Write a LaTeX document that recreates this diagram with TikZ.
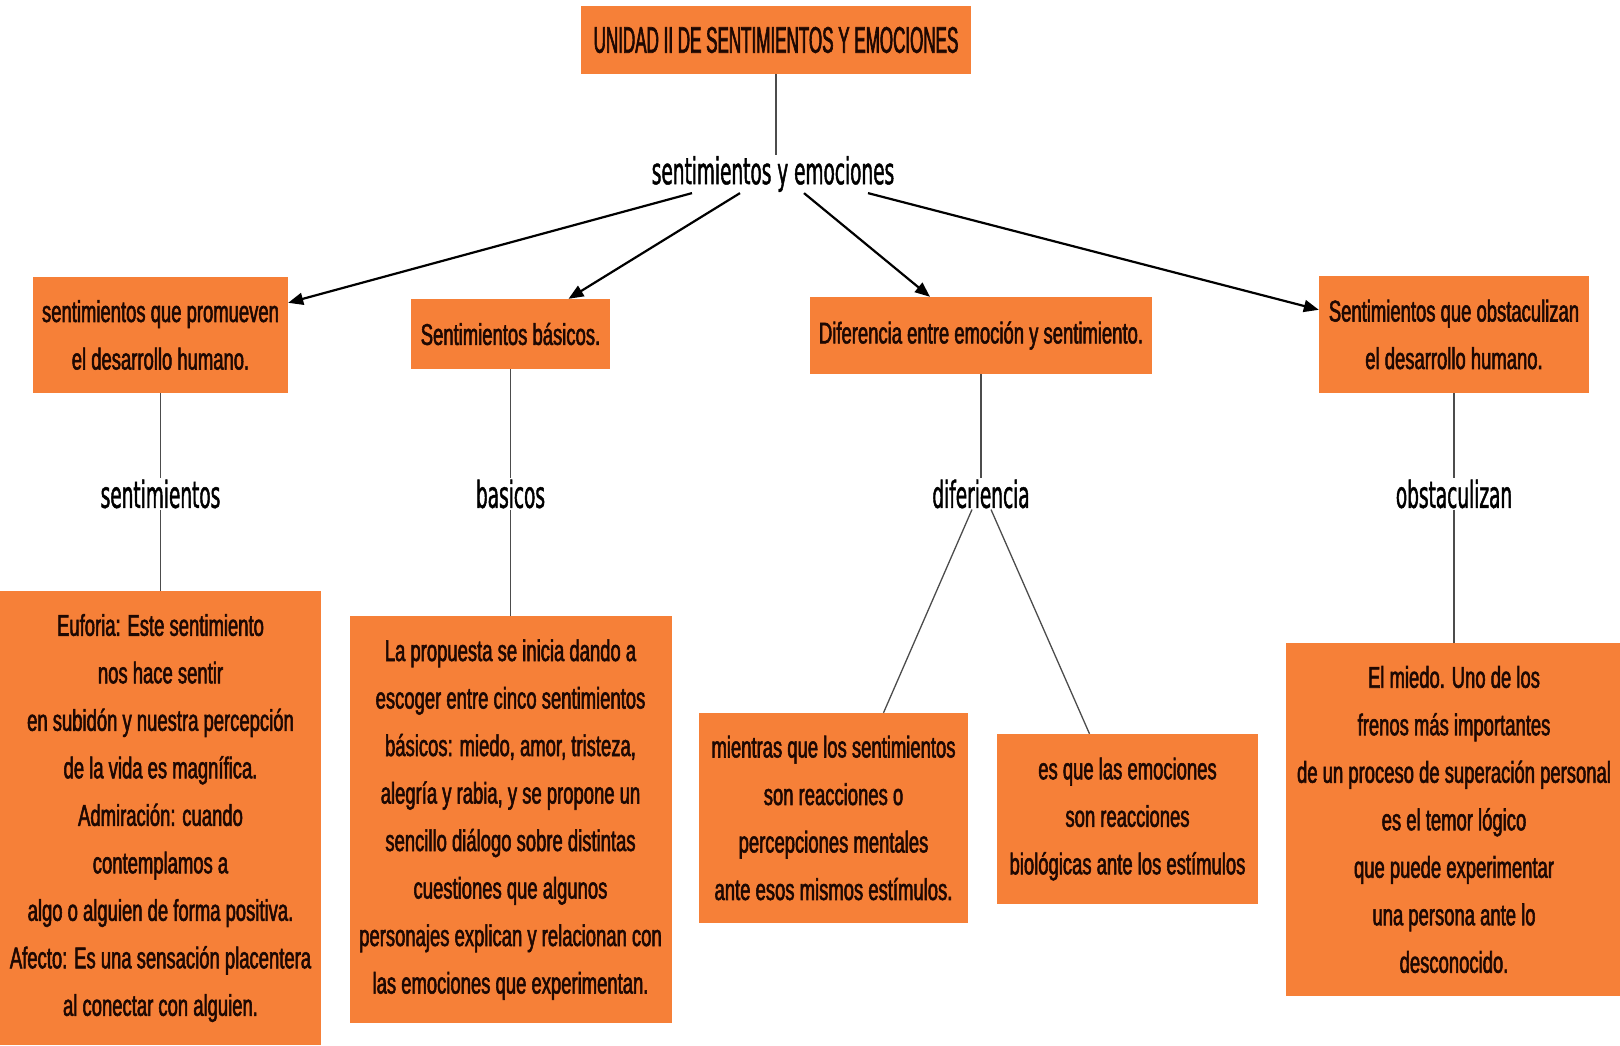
\documentclass[tikz,border=0pt]{standalone}
\usepackage{fontspec}
\setmainfont{Liberation Sans}
\newfontfamily\titlefont[FakeStretch=0.46,FakeBold=1.6]{Liberation Sans}
\newfontfamily\boxfont[FakeStretch=0.615,FakeBold=1.8]{Liberation Sans}
\newfontfamily\lblfont[FakeStretch=0.5,FakeBold=1.2]{DejaVu Sans}
\usetikzlibrary{arrows.meta}
\definecolor{naranja}{RGB}{246,128,56}
\definecolor{tinta}{RGB}{30,8,2}
\tikzset{
  caja/.style={fill=naranja, text=tinta, align=center, inner sep=0pt, font=\boxfont\fontsize{30}{47.5}\selectfont},
  etiq/.style={inner sep=1pt, font=\lblfont\fontsize{37}{40}\selectfont},
  flecha/.style={line width=2.2pt, -{Triangle[length=15pt,width=12pt]}},
  linea/.style={line width=1.3pt, black!70},
}

\begin{document}
\begin{tikzpicture}[x=1pt,y=-1pt]
\useasboundingbox (0,0) rectangle (1620,1045);

\node[caja, minimum width=390pt, minimum height=68pt, font=\titlefont\fontsize{37}{40}\selectfont] (titulo) at (776,40) {UNIDAD II DE SENTIMIENTOS Y EMOCIONES};
\node[etiq] (emo) at (773,174) {sentimientos y emociones};

\node[caja, minimum width=255pt, minimum height=116pt] (cajaA) at (160.5,335) {sentimientos que promueven\\el desarrollo humano.};
\node[caja, minimum width=199pt, minimum height=70pt] (cajaB) at (510.5,334) {Sentimientos básicos.};
\node[caja, minimum width=342pt, minimum height=77pt] (cajaC) at (981,335.5) {Diferencia entre emoción y sentimiento.};
\node[caja, minimum width=270pt, minimum height=117pt] (cajaD) at (1454,334.5) {Sentimientos que obstaculizan\\el desarrollo humano.};

\node[etiq] (lblA) at (160.5,494) {sentimientos};
\node[etiq] (lblB) at (510.5,494) {basicos};
\node[etiq] (lblC) at (981,494) {diferiencia};
\node[etiq] (lblD) at (1454,494) {obstaculizan};

\node[caja, minimum width=321pt, minimum height=454pt] (cajaE) at (160.5,818) {Euforia: Este sentimiento\\nos hace sentir\\en subidón y nuestra percepción\\de la vida es magnífica.\\Admiración: cuando\\contemplamos a\\algo o alguien de forma positiva.\\Afecto: Es una sensación placentera\\al conectar con alguien.};
\node[caja, minimum width=322pt, minimum height=407pt] (cajaF) at (510.5,819.5) {La propuesta se inicia dando a\\escoger entre cinco sentimientos\\básicos: miedo, amor, tristeza,\\alegría y rabia, y se propone un\\sencillo diálogo sobre distintas\\cuestiones que algunos\\personajes explican y relacionan con\\las emociones que experimentan.};
\node[caja, minimum width=269pt, minimum height=210pt] (cajaG) at (833.5,818) {mientras que los sentimientos\\son reacciones o\\percepciones mentales\\ante esos mismos estímulos.};
\node[caja, minimum width=261pt, minimum height=170pt] (cajaH) at (1127.5,819) {es que las emociones\\son reacciones\\biológicas ante los estímulos};
\node[caja, minimum width=336pt, minimum height=353pt] (cajaI) at (1454,819.5) {El miedo. Uno de los\\frenos más importantes\\de un proceso de superación personal\\es el temor lógico\\que puede experimentar\\una persona ante lo\\desconocido.};

\draw[linea] (titulo.south) -- (titulo.south |- emo.north);
\draw[flecha] ([xshift=-81pt]emo.south) -- ([yshift=-26pt]cajaA.north east);
\draw[flecha] ([xshift=-33pt]emo.south) -- ([xshift=58pt]cajaB.north);
\draw[flecha] ([xshift=31pt]emo.south) -- ([xshift=-51pt]cajaC.north);
\draw[flecha] ([xshift=95pt]emo.south) -- ([yshift=-34pt]cajaD.north west);

\draw[linea] (cajaA.south) -- (lblA.north);
\draw[linea] (lblA.south) -- (cajaE.north);
\draw[linea] (cajaB.south) -- (lblB.north);
\draw[linea] (lblB.south) -- (cajaF.north);
\draw[linea] (cajaC.south) -- (lblC.north);
\draw[linea] ([xshift=-9pt]lblC.south) -- ([xshift=50pt]cajaG.north);
\draw[linea] ([xshift=10pt]lblC.south) -- ([xshift=-38pt]cajaH.north);
\draw[linea] (cajaD.south) -- (lblD.north);
\draw[linea] (lblD.south) -- (cajaI.north);
\end{tikzpicture}
\end{document}
